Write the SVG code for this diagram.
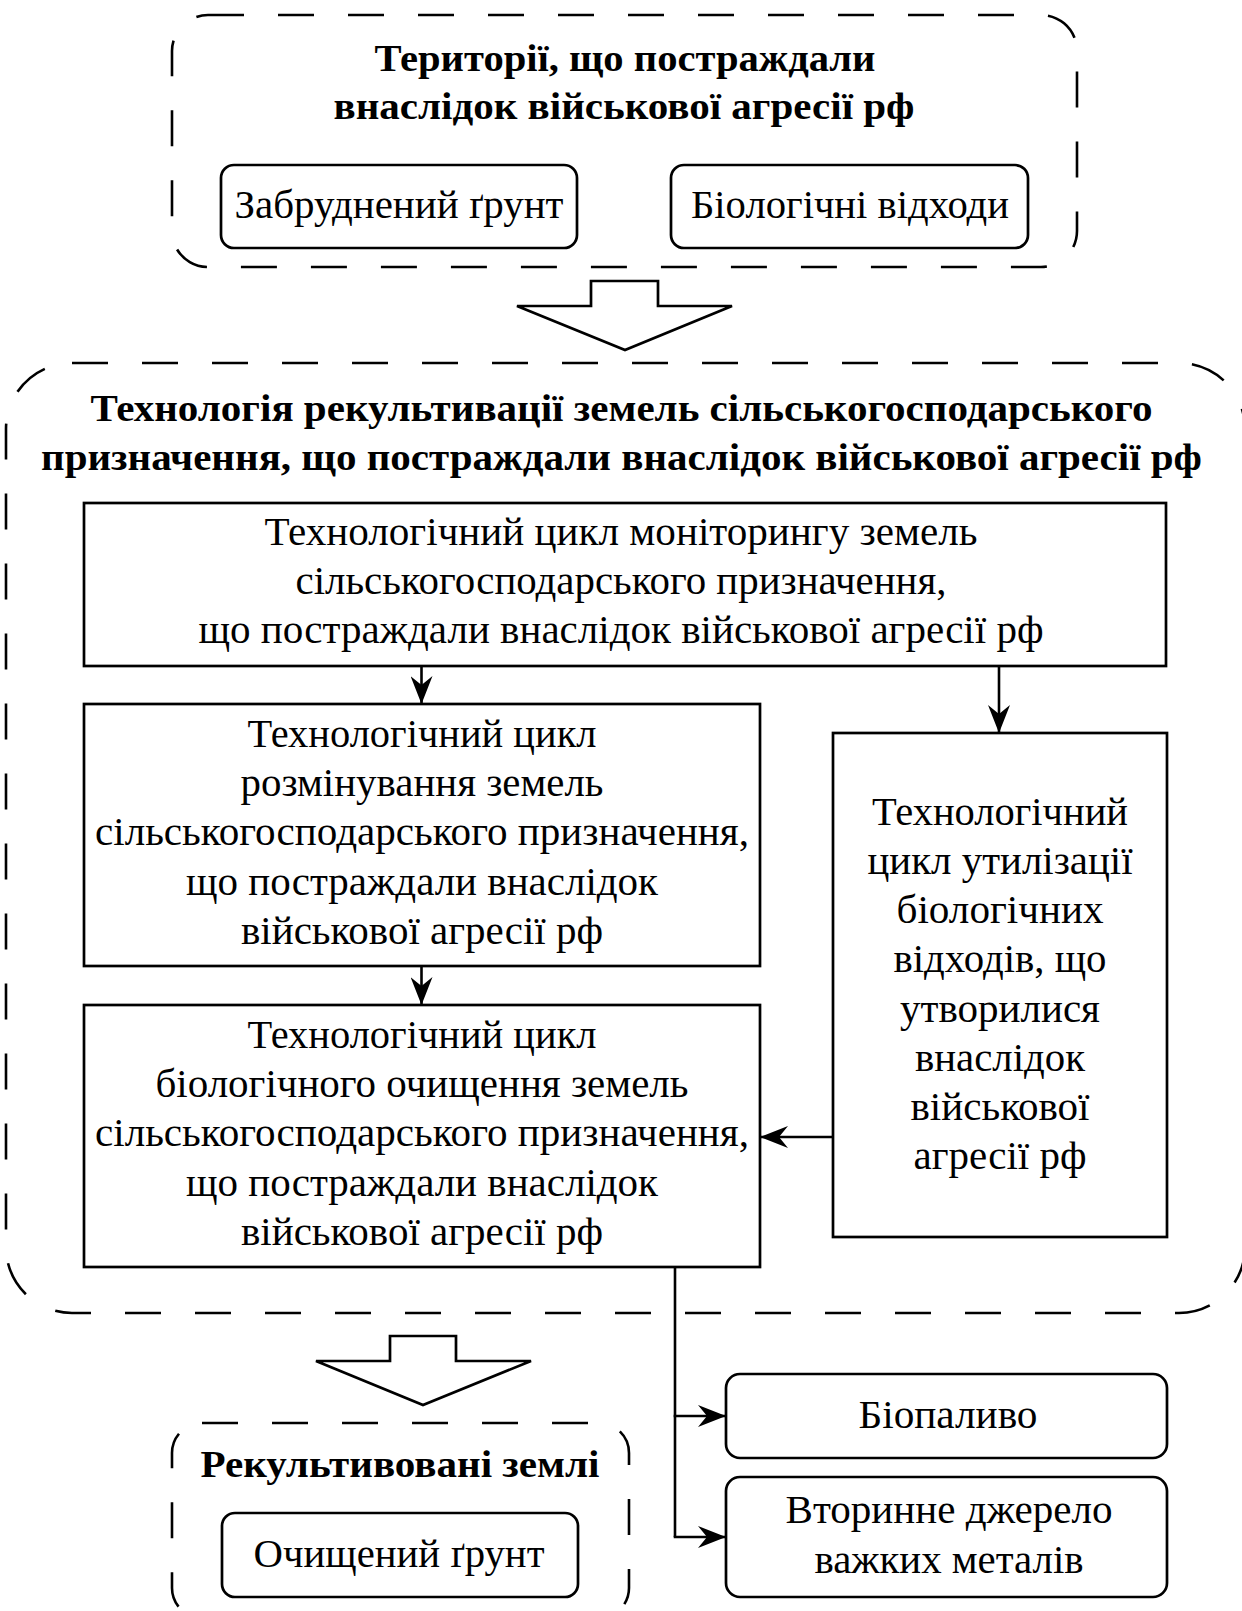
<svg xmlns="http://www.w3.org/2000/svg" width="1242" height="1611" viewBox="0 0 1242 1611">
<style>
text{font-family:"Liberation Serif","Times New Roman",serif;fill:#000;text-anchor:middle}
.t{font-size:39px}
.r{font-size:40px}
.b{font-size:38px;font-weight:bold}
.box{fill:#fff;stroke:#000;stroke-width:2.7}
.rbox{fill:#fff;stroke:#000;stroke-width:2.7}
.dash{fill:none;stroke:#000;stroke-width:2.6;stroke-dasharray:36 34}
.hollow{fill:#fff;stroke:#000;stroke-width:2.7;stroke-linejoin:miter}
.conn{fill:none;stroke:#000;stroke-width:2.6}
</style>
<defs>
<marker id="ah" viewBox="0 0 28 22" refX="27" refY="11" markerWidth="28" markerHeight="22" markerUnits="userSpaceOnUse" orient="auto">
<path d="M0,0 L28,11 L0,22 L9,11 Z" fill="#000"/>
</marker>
</defs>

<g id="group-territories">
<rect class="dash" x="172" y="15" width="905" height="252" rx="36"/>
<text class="b" x="625" y="71" textLength="501" lengthAdjust="spacingAndGlyphs">Території, що постраждали</text>
<text class="b" x="624" y="119" textLength="581" lengthAdjust="spacingAndGlyphs">внаслідок військової агресії рф</text>
</g>
<g id="node-soil">
<rect class="rbox" x="221" y="165" width="356" height="83" rx="13"/>
<text class="r" x="399" y="218" textLength="329" lengthAdjust="spacingAndGlyphs">Забруднений ґрунт</text>
</g>
<g id="node-biowaste">
<rect class="rbox" x="671" y="165" width="357" height="83" rx="13"/>
<text class="r" x="850" y="218" textLength="318" lengthAdjust="spacingAndGlyphs">Біологічні відходи</text>
</g>

<g id="arrow-big-1">
<polygon class="hollow" points="591,281 658,281 658,306 732,306 625,350 517,306 591,306"/>
</g>

<g id="group-technology">
<rect class="dash" x="6" y="363" width="1239" height="950" rx="66"/>
<text class="b" x="621.5" y="421" textLength="1062" lengthAdjust="spacingAndGlyphs">Технологія рекультивації земель сільськогосподарського</text>
<text class="b" x="621.5" y="470" textLength="1161" lengthAdjust="spacingAndGlyphs">призначення, що постраждали внаслідок військової агресії рф</text>
</g>

<g id="node-monitoring">
<rect class="box" x="84" y="503" width="1082" height="163"/>
<text class="t" x="621" y="545" textLength="713" lengthAdjust="spacingAndGlyphs">Технологічний цикл моніторингу земель</text>
<text class="t" x="621" y="594" textLength="651" lengthAdjust="spacingAndGlyphs">сільськогосподарського призначення,</text>
<text class="t" x="621" y="643" textLength="845" lengthAdjust="spacingAndGlyphs">що постраждали внаслідок військової агресії рф</text>
</g>

<g id="node-demining">
<rect class="box" x="84" y="704" width="676" height="262"/>
<text class="t" x="422" y="747" textLength="349" lengthAdjust="spacingAndGlyphs">Технологічний цикл</text>
<text class="t" x="422" y="796" textLength="363" lengthAdjust="spacingAndGlyphs">розмінування земель</text>
<text class="t" x="422" y="845" textLength="654" lengthAdjust="spacingAndGlyphs">сільськогосподарського призначення,</text>
<text class="t" x="422" y="895" textLength="472" lengthAdjust="spacingAndGlyphs">що постраждали внаслідок</text>
<text class="t" x="422" y="944" textLength="362" lengthAdjust="spacingAndGlyphs">військової агресії рф</text>
</g>

<g id="node-biocleaning">
<rect class="box" x="84" y="1005" width="676" height="262"/>
<text class="t" x="422" y="1048" textLength="349" lengthAdjust="spacingAndGlyphs">Технологічний цикл</text>
<text class="t" x="422" y="1097" textLength="533" lengthAdjust="spacingAndGlyphs">біологічного очищення земель</text>
<text class="t" x="422" y="1146" textLength="654" lengthAdjust="spacingAndGlyphs">сільськогосподарського призначення,</text>
<text class="t" x="422" y="1196" textLength="472" lengthAdjust="spacingAndGlyphs">що постраждали внаслідок</text>
<text class="t" x="422" y="1245" textLength="362" lengthAdjust="spacingAndGlyphs">військової агресії рф</text>
</g>

<g id="node-utilization">
<rect class="box" x="833" y="733" width="334" height="504"/>
<text class="t" x="1000" y="825" textLength="256" lengthAdjust="spacingAndGlyphs">Технологічний</text>
<text class="t" x="1000" y="874" textLength="265" lengthAdjust="spacingAndGlyphs">цикл утилізації</text>
<text class="t" x="1000" y="923" textLength="207" lengthAdjust="spacingAndGlyphs">біологічних</text>
<text class="t" x="1000" y="972" textLength="213" lengthAdjust="spacingAndGlyphs">відходів, що</text>
<text class="t" x="1000" y="1022" textLength="200" lengthAdjust="spacingAndGlyphs">утворилися</text>
<text class="t" x="1000" y="1071" textLength="170" lengthAdjust="spacingAndGlyphs">внаслідок</text>
<text class="t" x="1000" y="1120" textLength="179" lengthAdjust="spacingAndGlyphs">військової</text>
<text class="t" x="1000" y="1169" textLength="173" lengthAdjust="spacingAndGlyphs">агресії рф</text>
</g>

<g id="arrow-big-2">
<polygon class="hollow" points="390,1336 456,1336 456,1361 531,1361 423,1405 316,1361 390,1361"/>
</g>

<g id="group-reclaimed">
<rect class="dash" x="172" y="1423" width="457" height="195" rx="30"/>
<text class="b" x="400" y="1477" textLength="399" lengthAdjust="spacingAndGlyphs">Рекультивовані землі</text>
</g>
<g id="node-cleansoil">
<rect class="rbox" x="222" y="1513" width="356" height="84" rx="13"/>
<text class="r" x="399" y="1567" textLength="291" lengthAdjust="spacingAndGlyphs">Очищений ґрунт</text>
</g>

<g id="node-biofuel">
<rect class="rbox" x="726" y="1374" width="441" height="84" rx="14"/>
<text class="r" x="948" y="1428" textLength="179" lengthAdjust="spacingAndGlyphs">Біопаливо</text>
</g>
<g id="node-metals">
<rect class="rbox" x="726" y="1477" width="441" height="120" rx="14"/>
<text class="r" x="949" y="1523" textLength="327" lengthAdjust="spacingAndGlyphs">Вторинне джерело</text>
<text class="r" x="949" y="1573" textLength="269" lengthAdjust="spacingAndGlyphs">важких металів</text>
</g>

<g id="connectors">
<path class="conn" d="M421.5,666 V703" marker-end="url(#ah)"/>
<path class="conn" d="M999,666 V732" marker-end="url(#ah)"/>
<path class="conn" d="M421.5,966 V1004" marker-end="url(#ah)"/>
<path class="conn" d="M833,1137 H761" marker-end="url(#ah)"/>
<path class="conn" d="M675,1267 V1537"/>
<path class="conn" d="M673.7,1416 H725" marker-end="url(#ah)"/>
<path class="conn" d="M673.7,1537 H725" marker-end="url(#ah)"/>
</g>
</svg>
